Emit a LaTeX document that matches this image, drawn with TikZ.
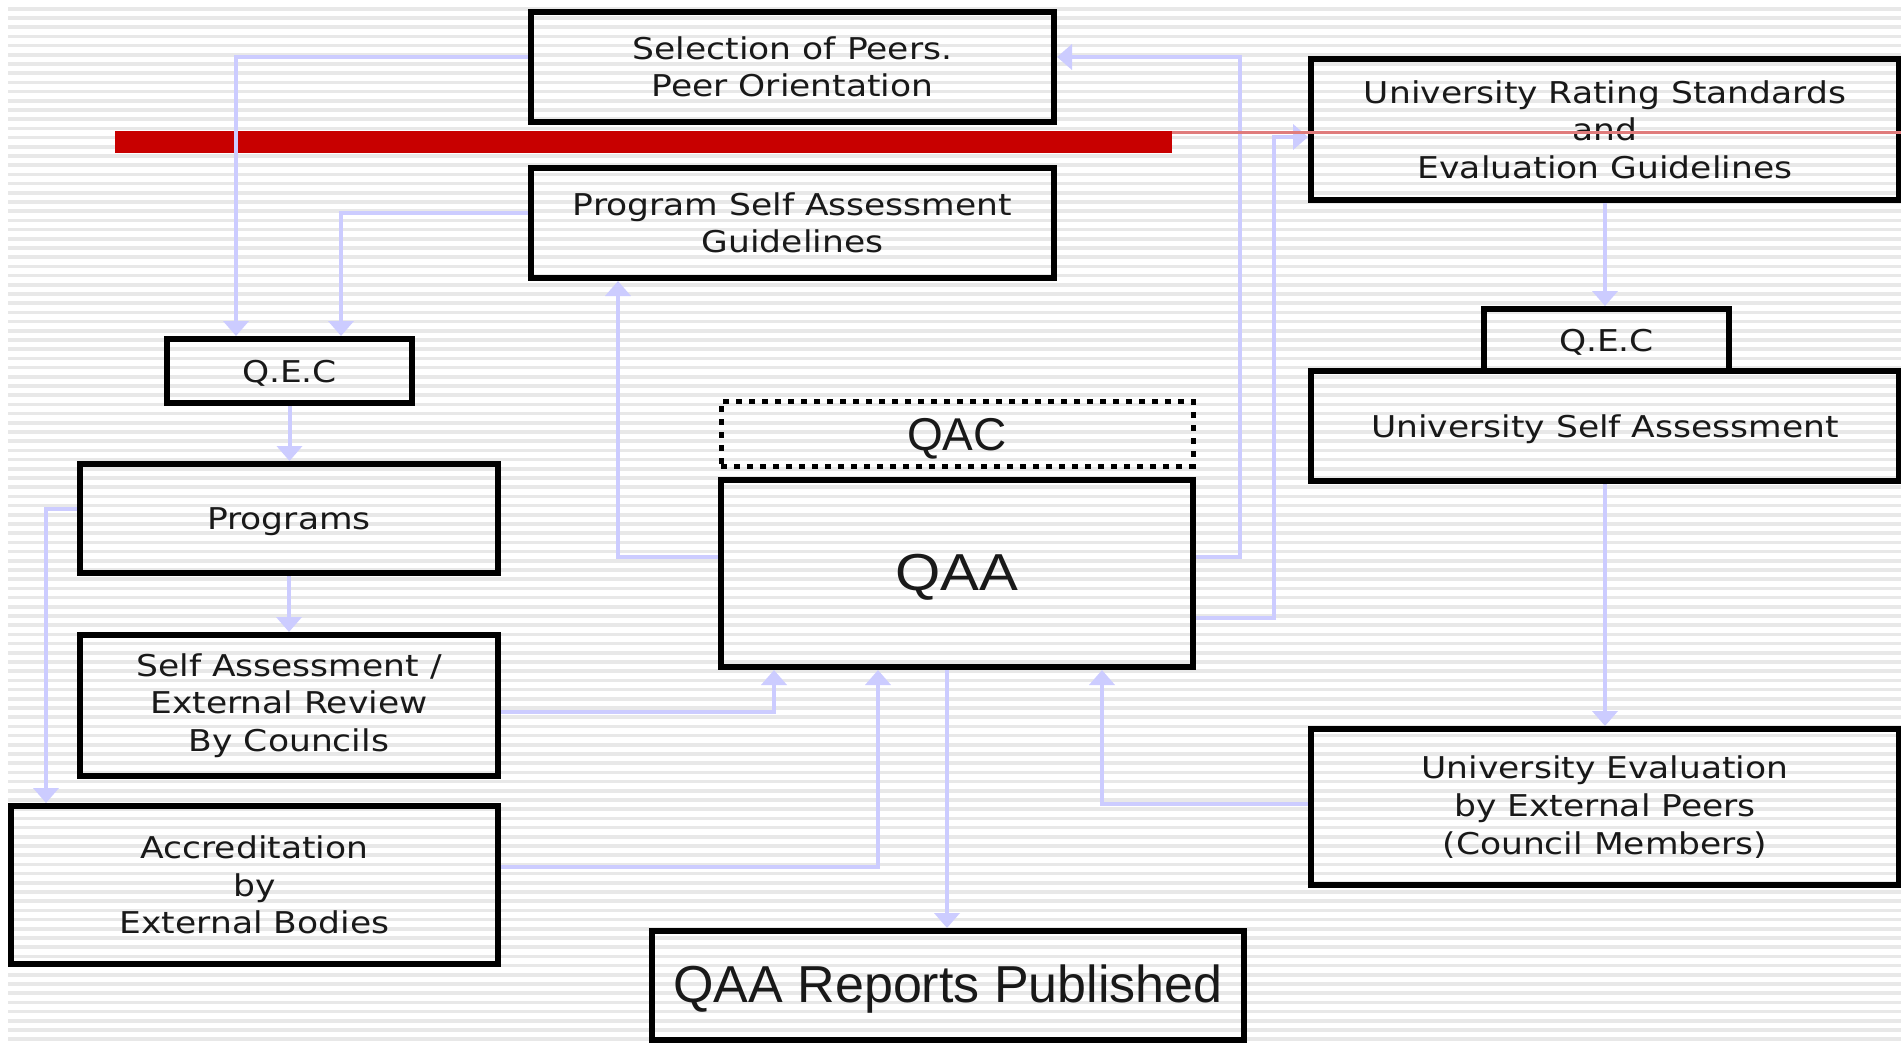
\documentclass[tikz,border=0pt]{standalone}
\usepackage{fontspec}
\usetikzlibrary{arrows.meta}
\newfontfamily\vfont[FakeStretch=1.15]{DejaVu Sans}
\newfontfamily\afont[FakeStretch=1.12]{Liberation Sans}
\newfontfamily\bfont{Liberation Sans}
\definecolor{conncol}{HTML}{CCCCFF}
\definecolor{barred}{HTML}{C80000}
\definecolor{thinred}{HTML}{E07C7C}
\definecolor{stripecol}{HTML}{E8E8E8}
\newcommand{\dn}[2]{\raisebox{-#1}[\height][\depth]{#2}}
\begin{document}
\begin{tikzpicture}[x=1pt,y=-1pt,
  box/.style={draw=black, line width=6pt, inner sep=0pt, align=center,
    font=\vfont\fontsize{30}{37.6}\selectfont, text=black!90},
  conn/.style={draw=conncol, line width=4pt, -{Triangle[width=25pt,length=15pt]}},
]
\useasboundingbox[fill=white] (0,0) rectangle (1901,1045);
% striped background
\foreach \i in {0,...,112}{
  \fill[stripecol] (8,{7+\i*9.2}) rectangle (1901,{10.5+\i*9.2});
}
% red bar
\fill[barred] (115,131) rectangle (1172,153);

% boxes
\node[box, minimum width=523pt, minimum height=110pt] (sel) at (792.5,67) {Selection of Peers.\\Peer Orientation};
\node[box, minimum width=523pt, minimum height=110pt] (psag) at (792.5,223) {Program Self Assessment\\Guidelines};
\node[box, minimum width=588pt, minimum height=141pt] (urs) at (1605,129.5) {University Rating Standards\\and\\Evaluation Guidelines};
\node[box, minimum width=245pt, minimum height=62pt] (qecr) at (1606.5,340) {\dn{2pt}{Q.E.C}};
\node[box, minimum width=588pt, minimum height=110pt] (usa) at (1605,426) {\dn{3pt}{University Self Assessment}};
\node[box, minimum width=588pt, minimum height=156pt] (ue) at (1605,807) {University Evaluation\\by External Peers\\(Council Members)};
\node[box, minimum width=245pt, minimum height=64pt] (qecl) at (289.5,371) {\dn{2pt}{Q.E.C}};
\node[box, minimum width=418pt, minimum height=109pt] (prog) at (289,518.5) {\dn{3pt}{Programs}};
\node[box, minimum width=418pt, minimum height=141pt] (sa) at (289,705.5) {Self Assessment /\\External Review\\By Councils};
\node[box, minimum width=487pt, minimum height=158pt] (acc) at (254.5,885) {Accreditation\\by\\External Bodies};
\node[box, dash pattern=on 6pt off 7pt, line width=5pt, minimum width=472pt, minimum height=65pt,
  font=\bfont\fontsize{46}{50}\selectfont] (qac) at (957,433.5) {\dn{5pt}{QAC}};
\node[box, minimum width=472pt, minimum height=187pt,
  font=\afont\fontsize{52}{56}\selectfont] (qaa) at (957,573.5) {\dn{4pt}{QAA}};
\node[box, minimum width=592pt, minimum height=109pt,
  font=\bfont\fontsize{52}{56}\selectfont] (rep) at (948,985.5) {\dn{4pt}{QAA Reports Published}};

% connectors
\coordinate (b9) at (1240,57);
\coordinate (b10) at (1274,137);
\draw[conn] ([yshift=10pt]sel.west) -| ([xshift=-53.5pt]qecl.north);
\draw[conn] ([yshift=10pt]psag.west) -| ([xshift=51.5pt]qecl.north);
\draw[conn] (qecl.south) -- (qecl.south |- prog.north);
\draw[conn] (prog.south) -- (prog.south |- sa.north);
\draw[conn] ([yshift=9.5pt]prog.west) -| ([xshift=-208.5pt]acc.north);
\draw[conn] ([yshift=-6.5pt]sa.east) -| ([xshift=-183pt]qaa.south);
\draw[conn] ([yshift=18pt]acc.east) -| ([xshift=-79pt]qaa.south);
\draw[conn] ([yshift=16.5pt]qaa.west) -| ([xshift=-174.5pt]psag.south);
\draw[conn] ([yshift=16.5pt]qaa.east) -| (b9) -- ([yshift=10pt]sel.east);
\draw[conn] ([yshift=-44.5pt]qaa.east) -| (b10) -- ([yshift=-7.5pt]urs.west);
\draw[conn] ([xshift=-10pt]qaa.south) -- ([xshift=-10pt]qaa.south |- rep.north);
\draw[conn] (urs.south) -- (urs.south |- qecr.north);
\draw[conn] (usa.south) -- (usa.south |- ue.north);
\draw[conn] ([yshift=3pt]ue.west) -| ([xshift=145pt]qaa.south);

% thin red line
\draw[thinred, line width=3pt] (1172,132) -- (1901,132);
\end{tikzpicture}
\end{document}
